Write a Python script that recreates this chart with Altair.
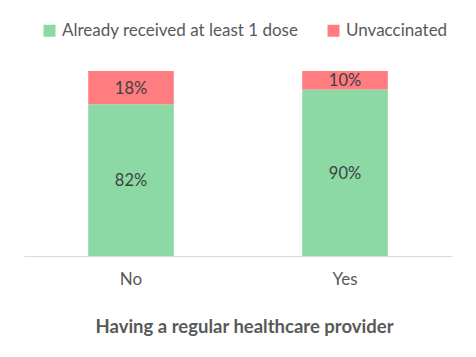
import altair as alt
import pandas as pd

categories = ["No", "Yes"]
series = ["Already received at least 1 dose", "Unvaccinated"]
received = [82, 90]
unvaccinated = [18, 10]
colors = ["#8CD9A5", "#FF7C80"]
x_title = "Having a regular healthcare provider"

rows = []
for i, c in enumerate(categories):
    rows.append({"cat": c, "series": series[0], "value": received[i], "ord": 0})
    rows.append({"cat": c, "series": series[1], "value": unvaccinated[i], "ord": 1})
df = pd.DataFrame(rows)

FONT = "Lato"

base = alt.Chart(df).transform_stack(
    stack="value", groupby=["cat"], as_=["y0", "y1"],
    sort=[alt.SortField("ord", order="ascending")]
).transform_calculate(
    mid="(datum.y0 + datum.y1) / 2", label="datum.value + '%'"
)

xenc = alt.X(
    "cat:N",
    sort=categories,
    scale=alt.Scale(paddingInner=0.6, paddingOuter=0.3),
    axis=alt.Axis(
        title=x_title, labelAngle=0, ticks=False, domainColor="#D9D9D9",
        domainWidth=1, labelFont=FONT, labelFontSize=17, labelColor="#595959",
        labelPadding=15, titleFont=FONT, titleFontSize=18.5, titleFontWeight="bold",
        titleColor="#595959", titlePadding=30, titleX=220, titleAlign="center",
    ),
)
yscale = alt.Scale(domain=[0, 100])

bars = base.mark_bar().encode(
    x=xenc,
    y=alt.Y("y0:Q", scale=yscale, axis=None),
    y2="y1:Q",
    color=alt.Color(
        "series:N",
        scale=alt.Scale(domain=series, range=colors),
        legend=alt.Legend(
            title=None, orient="none", direction="horizontal", legendX=17, legendY=-49,
            symbolType="square", symbolSize=144, symbolStrokeWidth=0, symbolOpacity=1,
            labelFont=FONT, labelFontSize=17, labelColor="#595959",
            labelOffset=4, columnPadding=26, labelLimit=400,
        ),
    ),
)

text = base.mark_text(font=FONT, fontSize=16.5, color="#404040", dy=1).encode(
    x=alt.X("cat:N", sort=categories),
    y=alt.Y("mid:Q", scale=yscale),
    text="label:N",
)

chart = (bars + text).properties(
    width=428, height=185,
    autosize=alt.AutoSizeParams(type="none"),
    padding={"left": 16, "top": 63, "right": 8, "bottom": 85},
).configure_view(stroke=None)

chart.save("out.html", embed_options={"renderer": "svg", "actions": False})
